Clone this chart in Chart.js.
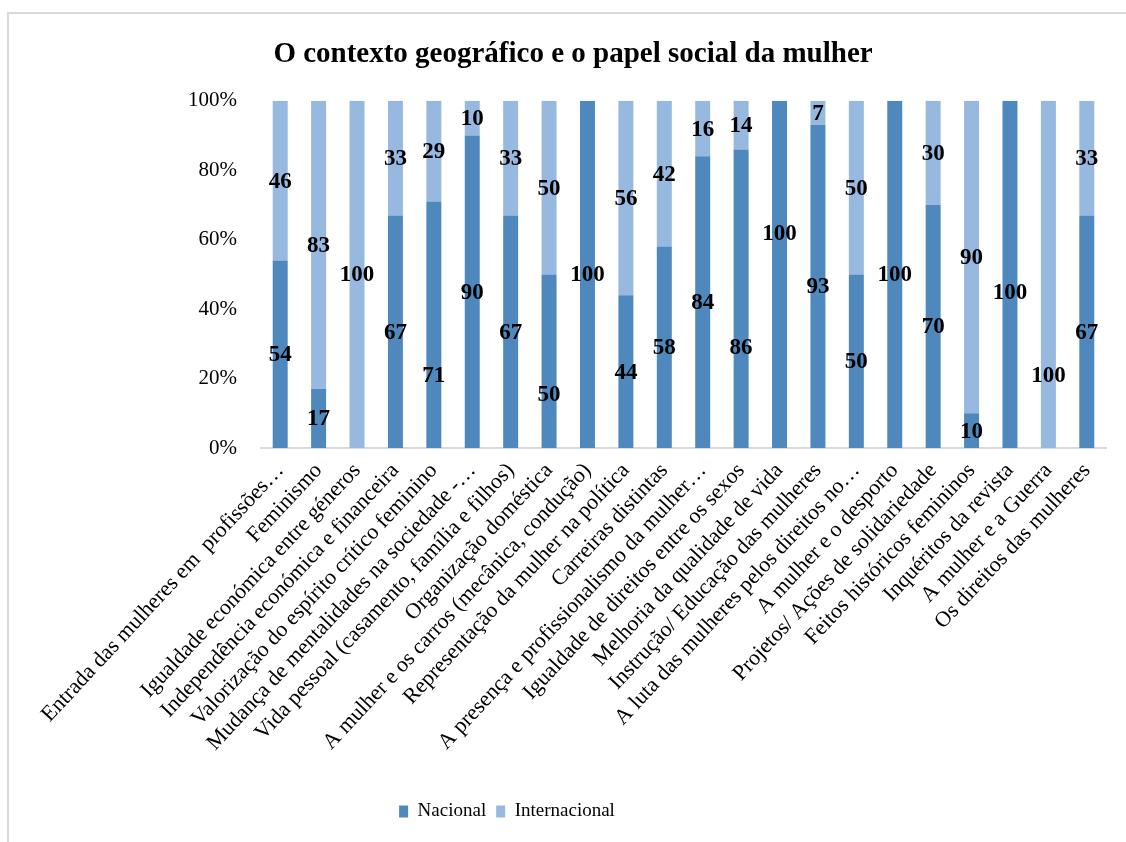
<!DOCTYPE html>
<html>
<head>
<meta charset="utf-8">
<script src="https://cdn.jsdelivr.net/npm/chart.js@4.4.1/dist/chart.umd.min.js"></script>
<style>
    html, body { margin: 0; padding: 0; background: #fff; overflow: hidden; }
    #marco { position: absolute; left: 7px; top: 12px; width: 1200px; height: 900px; border: 2px solid #d9d9d9; }
    #contenedor { position: absolute; left: 0; top: 0; width: 1126px; height: 842px; }
</style>
</head>
<body>
<div id="marco"></div>
<div id="contenedor"><canvas id="myChart" width="1126" height="842"></canvas></div>
<script>
// categorias del eje x (tal como aparecen, truncadas)
const categorias = [
    "Entrada das mulheres em  profissões…",
    "Feminismo",
    "Igualdade económica entre géneros",
    "Independência económica e financeira",
    "Valorização do espírito crítico feminino",
    "Mudança de mentalidades na sociedade -…",
    "Vida pessoal (casamento, família e filhos)",
    "Organização doméstica",
    "A mulher e os carros (mecânica, condução)",
    "Representação da mulher na política",
    "Carreiras distintas",
    "A presença e profissionalismo da mulher…",
    "Igualdade de direitos entre os sexos",
    "Melhoria da qualidade de vida",
    "Instrução/ Educação das mulheres",
    "A luta das mulheres pelos direitos no…",
    "A mulher e o desporto",
    "Projetos/ Ações de solidariedade",
    "Feitos históricos femininos",
    "Inquéritos da revista",
    "A mulher e a Guerra",
    "Os direitos das mulheres"
];

const nacional      = [54, 17, 0, 67, 71, 90, 67, 50, 100, 44, 58, 84, 86, 100, 93, 50, 100, 70, 10, 100, 0, 67];
const internacional = [46, 83, 100, 33, 29, 10, 33, 50, 0, 56, 42, 16, 14, 0, 7, 50, 0, 30, 90, 0, 100, 33];

const ticksY = [0, 20, 40, 60, 80, 100];

// algunas etiquetas fueron movidas a mano en el original (valor del eje donde va la etiqueta)
const etiquetasMovidas = { "0-4": 21, "0-7": 15.5, "0-12": 29, "0-13": 62, "0-19": 45, "1-20": 21 };

const fuente = "'Liberation Serif', 'Times New Roman', serif";

const pluginEtiquetas = {
    id: 'etiquetas',
    afterDatasetsDraw(chart) {
        const ctx = chart.ctx;
        const y = chart.scales.y;
        ctx.save();
        ctx.font = "bold 23px " + fuente;
        ctx.fillStyle = "#000";
        ctx.textAlign = "center";
        ctx.textBaseline = "middle";
        chart.data.datasets.forEach(function (ds, di) {
            const meta = chart.getDatasetMeta(di);
            meta.data.forEach(function (barra, i) {
                const valor = ds.data[i];
                if (!valor) return;
                const base = di === 0 ? 0 : nacional[i];
                let pos = base + valor / 2;
                const clave = di + "-" + i;
                if (etiquetasMovidas[clave] !== undefined) pos = etiquetasMovidas[clave];
                ctx.fillText(valor, barra.x, y.getPixelForValue(pos) + 1);
            });
        });
        ctx.restore();
    }
};

// la leyenda del original esta corrida hacia la izquierda
const pluginLeyenda = {
    id: 'moverLeyenda',
    afterLayout(chart) {
        chart.legend.left -= 66;
        chart.legend.right -= 66;
    }
};

const ctx = document.getElementById('myChart');

new Chart(ctx, {
    type: 'bar',
    data: {
        labels: categorias,
        datasets: [{
            label: 'Nacional',
            data: nacional,
            backgroundColor: "#4f88bd",
            borderWidth: 0
        }, {
            label: 'Internacional',
            data: internacional,
            backgroundColor: "#97b9e0",
            borderWidth: 0
        }]
    },
    options: {
        responsive: false,
        animation: false,
        devicePixelRatio: 1,
        layout: { padding: { left: 40, right: 20, top: 0, bottom: 11 } },
        datasets: { bar: { barPercentage: 0.39, categoryPercentage: 1 } },
        plugins: {
            title: {
                display: true,
                text: 'O contexto geográfico e o papel social da mulher',
                color: '#000',
                font: { family: fuente, size: 29, weight: 'bold' },
                padding: { top: 37, bottom: 29 }
            },
            legend: {
                position: 'bottom',
                labels: {
                    color: '#000',
                    font: { family: fuente, size: 19 },
                    boxWidth: 9,
                    boxHeight: 12,
                    padding: 10
                }
            },
            tooltip: { enabled: false }
        },
        scales: {
            x: {
                stacked: true,
                grid: { display: false },
                border: { color: '#d9d9d9', width: 2 },
                ticks: {
                    color: '#000',
                    font: { family: fuente, size: 22 },
                    autoSkip: false,
                    minRotation: 47,
                    maxRotation: 47,
                    padding: 2
                },
                afterFit: function (scale) { scale.height = 344; }
            },
            y: {
                stacked: true,
                min: 0,
                max: 100,
                grid: { display: false, drawTicks: false },
                border: { display: false },
                afterBuildTicks: function (scale) {
                    scale.ticks = ticksY.map(function (v) { return { value: v }; });
                },
                ticks: {
                    color: '#000',
                    font: { family: fuente, size: 21 },
                    padding: 24,
                    callback: function (v) { return v + '%'; }
                },
                afterFit: function (scale) { scale.width = 221; }
            }
        }
    },
    plugins: [pluginEtiquetas, pluginLeyenda]
});
</script>
</body>
</html>
